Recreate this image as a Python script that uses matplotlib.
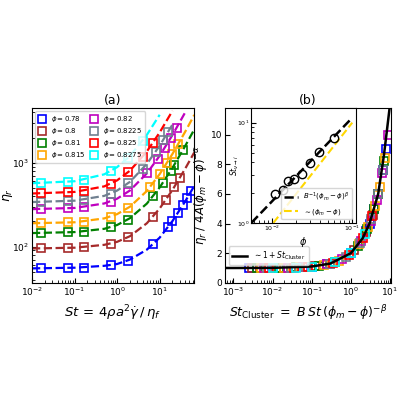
import matplotlib
matplotlib.use("Agg")
import matplotlib.pyplot as plt

phis = ["0.78", "0.8", "0.81", "0.815", "0.82", "0.8225", "0.825", "0.8275"]
colors = ["blue", "brown", "green", "orange", "m", "slategray", "red", "cyan"]

# panel (a) markers
mx = [
    [0.016, 0.07, 0.17, 0.7, 1.8, 7, 16, 20, 27, 35, 45, 55],
    [0.016, 0.07, 0.17, 0.7, 1.8, 7, 14, 22, 30],
    [0.016, 0.07, 0.17, 0.7, 1.8, 7, 12, 18, 22, 35],
    [0.016, 0.07, 0.17, 0.7, 1.8, 6, 10, 15, 20, 27],
    [0.016, 0.07, 0.17, 0.7, 1.8, 5, 9, 13, 18, 25],
    [0.016, 0.07, 0.17, 0.7, 1.8, 4, 8, 12, 16],
    [0.016, 0.07, 0.17, 0.7, 1.8, 4, 7],
    [0.016, 0.07, 0.17, 0.7, 1.8, 4],
]
my = [
    [55, 56, 56, 60, 68, 106, 172, 202, 253, 312, 385, 458],
    [95, 96, 98, 108, 129, 228, 361, 513, 665],
    [146, 148, 151, 170, 210, 399, 580, 797, 943, 1414],
    [191, 194, 199, 228, 288, 516, 733, 1004, 1276, 1656],
    [281, 287, 296, 345, 448, 747, 1120, 1493, 1960, 2613],
    [342, 349, 361, 428, 567, 844, 1347, 1851, 2355],
    [433, 443, 462, 561, 766, 1178, 1739],
    [575, 592, 624, 792, 1140, 1837],
]
# panel (a) fit lines
lx = [0.01, 0.1, 0.5, 1, 2, 5, 10, 20, 40, 65]
ly = [
    [55, 56, 59, 62, 70, 92, 128, 202, 348, 530],
    [95, 97, 105, 114, 133, 190, 285, 475, 855, 1330],
    [145, 149, 163, 181, 218, 326, 508, 870, 1595, 2500],
    [190, 195, 217, 244, 299, 461, 733, 1276, 2360, 3720],
    [280, 289, 327, 373, 467, 747, 1213, 2147, 4013],
    [340, 353, 403, 466, 592, 970, 1600, 2860],
    [430, 449, 523, 617, 804, 1365, 2300, 4170],
    [570, 602, 728, 887, 1203, 2153, 3737],
]

# panel (b) collapsed data
bx = [
    [0.0025, 0.01, 0.025, 0.1, 0.25, 1, 2.5, 3, 4, 5, 6.5, 8],
    [0.003, 0.012, 0.03, 0.12, 0.3, 1.2, 2.4, 3.6, 5],
    [0.004, 0.015, 0.04, 0.15, 0.4, 1.5, 2.6, 4, 5, 7],
    [0.005, 0.02, 0.05, 0.2, 0.5, 1.6, 2.8, 4.2, 5.5, 7.5],
    [0.006, 0.025, 0.06, 0.25, 0.6, 1.8, 3.2, 4.6, 6.4, 8.8],
    [0.007, 0.03, 0.07, 0.3, 0.75, 1.7, 3.3, 5, 6.6],
    [0.008, 0.035, 0.08, 0.35, 0.9, 2, 3.5],
    [0.01, 0.04, 0.1, 0.4, 1.0, 2.3],
]
by = [
    [1.0, 1.0, 1.02, 1.1, 1.25, 2.0, 3.5, 4.0, 5.0, 6.0, 7.6, 9.0],
    [1.0, 1.0, 1.03, 1.12, 1.3, 2.2, 3.4, 4.6, 6.0],
    [1.0, 1.0, 1.04, 1.15, 1.4, 2.5, 3.6, 5.0, 6.0, 8.2],
    [1.0, 1.0, 1.05, 1.2, 1.5, 2.6, 3.8, 5.2, 6.5, 8.4],
    [1.0, 1.0, 1.06, 1.25, 1.6, 2.8, 4.2, 5.6, 7.4, 10.0],
    [1.0, 1.0, 1.07, 1.3, 1.75, 2.7, 4.3, 6.0, 7.6],
    [1.0, 1.0, 1.08, 1.35, 1.9, 3.0, 4.5],
    [1.0, 1.0, 1.1, 1.4, 2.0, 3.3],
]
cx = [0.0005, 0.001, 0.01, 0.1, 0.3, 1, 2, 3, 5, 7, 10]
cy = [1, 1, 1.01, 1.1, 1.3, 2, 3, 4, 6, 8.6, 12]

# inset
ix = [0.011, 0.014, 0.016, 0.019, 0.024, 0.03, 0.039, 0.059]
iy = [1.92, 2.15, 2.6, 2.75, 3.1, 3.97, 5.1, 7.1]
kx = [0.0056, 0.1]
ky = [1.0, 11.2]
yx = [0.0105, 0.1]
yy = [1.0, 10.0]

fig = plt.figure(figsize=(4, 4), dpi=100)
axa = fig.add_axes([0.08, 0.293, 0.405, 0.437])
axb = fig.add_axes([0.562, 0.293, 0.415, 0.437])

for i in range(8):
    axa.plot(lx[:len(ly[i])], ly[i], "--", color=colors[i], lw=1.6)
    axa.plot(mx[i], my[i], "s", mfc="none", mec=colors[i], ms=6, mew=1.2,
             ls="none", label=r"$\phi = $" + phis[i])
axa.set_xscale("log"); axa.set_yscale("log")
axa.set_xlim(0.01, 64); axa.set_ylim(37, 4500)
axa.set_xlabel(r"$St\, =\, 4\rho a^2\dot{\gamma}\,/\,\eta_f$", fontsize=9.5)
axa.set_ylabel(r"$\eta_r$", fontsize=9, labelpad=-2)
axa.set_title("(a)", fontsize=9, pad=3)
axa.tick_params(labelsize=6.5, direction="in", which="both", pad=2)
axa.legend(ncol=2, fontsize=5, loc="upper left", handlelength=1,
           columnspacing=0.8, borderpad=0.4, labelspacing=0.3)

for i in range(8):
    axb.plot(bx[i], by[i], "s", mfc="none", mec=colors[i], ms=6, mew=1.2, ls="none")
axb.plot(cx, cy, "-", color="black", lw=1.8, label=r"$\sim 1 + St_{\rm Cluster}$")
axb.set_xscale("log")
axb.set_xlim(6e-4, 10.5); axb.set_ylim(0, 11.8)
axb.set_yticks([0, 2, 4, 6, 8, 10])
axb.set_xlabel(r"$St_{\rm Cluster}\ =\ B\,St\,(\phi_m-\phi)^{-\beta}$", fontsize=9)
axb.set_ylabel(r"$\eta_r\ /\ 4A(\phi_m-\phi)^{-\alpha}$", fontsize=8.5, labelpad=1)
axb.set_title("(b)", fontsize=9, pad=3)
axb.tick_params(labelsize=6.5, direction="in", which="both", pad=2)
axb.legend(loc="lower left", bbox_to_anchor=(0.0, 0.08), fontsize=5.5, handlelength=2)

axi = fig.add_axes([0.627, 0.443, 0.262, 0.287])
axi.plot(kx, ky, "--", color="black", lw=1.8, label=r"$B^{-1}(\phi_m-\phi)^\beta$")
axi.plot(yx, yy, "--", color="gold", lw=1.5, label=r"$\sim(\phi_m-\phi)$")
axi.plot(ix, iy, "o", mfc="none", mec="black", ms=6, ls="none")
axi.set_xscale("log"); axi.set_yscale("log")
axi.set_xlim(0.0055, 0.11); axi.set_ylim(1, 14)
axi.set_xlabel(r"$\phi$", fontsize=7, labelpad=1)
axi.set_ylabel(r"$St_{\nu\rightarrow i}$", fontsize=5.5, labelpad=-3)
axi.tick_params(labelsize=4.5, direction="in", which="both", pad=1)
axi.legend(loc="lower right", fontsize=5, handlelength=2)

fig.savefig("out.png", dpi=100)
